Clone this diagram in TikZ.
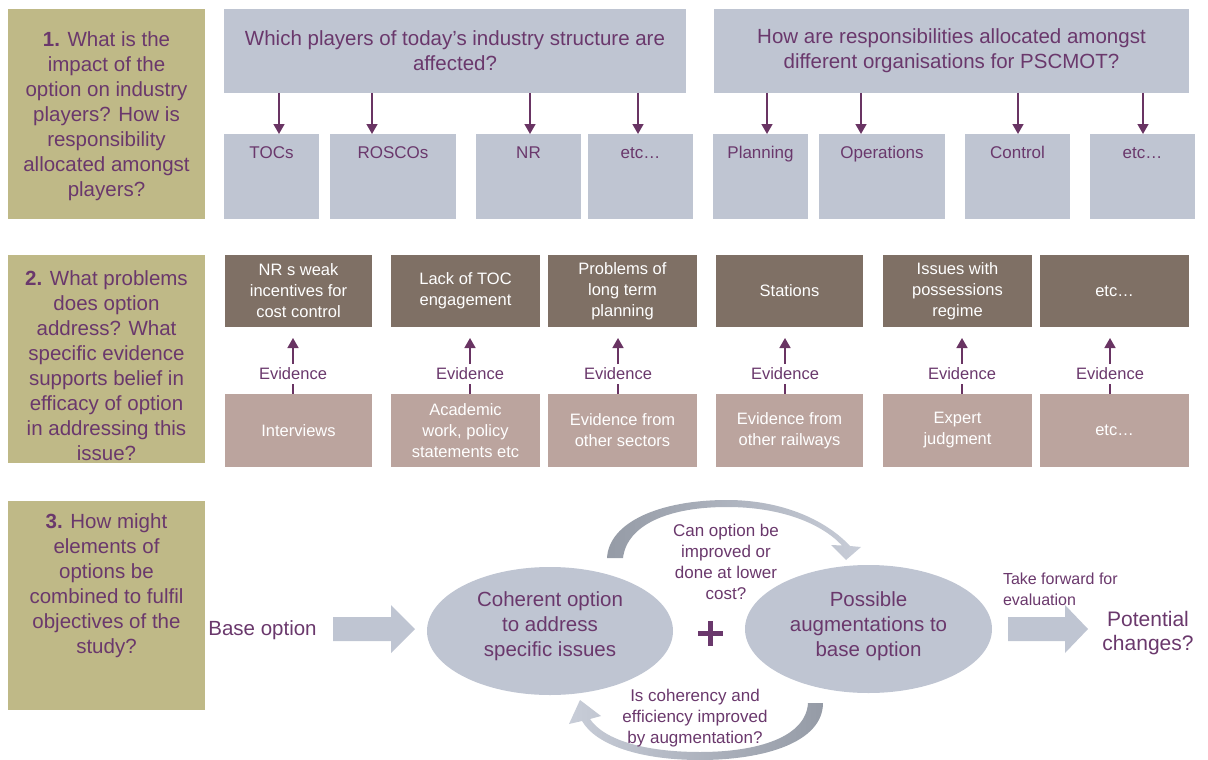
\documentclass[tikz,border=0pt]{standalone}
\usepackage{fontspec}
\setmainfont{Liberation Sans}
\usetikzlibrary{arrows.meta,shapes.geometric,calc}

\definecolor{olive}{HTML}{BFB987}
\definecolor{plum}{HTML}{6A386C}
\definecolor{slate}{HTML}{BFC5D2}
\definecolor{umber}{HTML}{7F7065}
\definecolor{rose}{HTML}{BBA49E}
\definecolor{arrowplum}{HTML}{693463}
\definecolor{curvedark}{HTML}{959BA6}
\definecolor{curvelight}{HTML}{C8CDD8}

\begin{document}
\begin{tikzpicture}[x=1pt,y=-1pt,
  every node/.style={inner sep=0pt, outer sep=0pt},
  qbox/.style={fill=olive, minimum width=197pt},
  qtext/.style={text=plum, align=center, font=\fontsize{20.5}{25}\selectfont},
  bigbox/.style={fill=slate, minimum height=84pt, text=plum, align=center, font=\fontsize{20.5}{25}\selectfont},
  smallbox/.style={fill=slate, minimum height=85pt},
  smalltxt/.style={text=plum, font=\fontsize{17}{20}\selectfont},
  probbox/.style={fill=umber, minimum height=72pt, text=white, align=center, font=\fontsize{16.5}{21}\selectfont},
  srcbox/.style={fill=rose, minimum height=73pt, text=white, align=center, font=\fontsize{16.5}{21}\selectfont},
  evlabel/.style={text=plum, font=\fontsize{16.5}{20}\selectfont, minimum height=20pt},
  feed/.style={-{Triangle[width=11pt,length=10pt]}, draw=arrowplum, line width=1.6pt},
  stem/.style={draw=arrowplum, line width=1.6pt},
  oval/.style={ellipse, fill=slate},
  ovaltext/.style={text=plum, align=center, font=\fontsize{20.5}{25}\selectfont},
  note/.style={text=plum, align=center, font=\fontsize{17}{21}\selectfont},
  blockarrow/.style={fill=slate}
]
\useasboundingbox (0,0) rectangle (1208,760);

% ---- question column ----
\node[qbox, minimum height=210pt] (k1) at (106.5,114) {};
\node[qtext] (k1t) at (106.5,116) {\textbf{1.} What is the\\impact of the\\option on industry\\players? How is\\responsibility\\allocated amongst\\players?};
\node[qbox, minimum height=208pt] (k2) at (106.5,359) {};
\node[qtext] (k2t) at (106.5,366) {\textbf{2.} What problems\\does option\\address? What\\specific evidence\\supports belief in\\efficacy of option\\in addressing this\\issue?};
\node[qbox, minimum height=209pt] (k3) at (106.5,605.5) {};
\node[qtext] (k3t) at (106.5,586) {\textbf{3.} How might\\elements of\\options be\\combined to fulfil\\objectives of the\\study?};

% ---- row 1: industry players and responsibilities ----
\node[bigbox, minimum width=462pt] (big1) at (455,51) {Which players of today’s industry structure are\\affected?};
\node[bigbox, minimum width=475pt] (big2) at (951.5,51) {How are responsibilities allocated amongst\\different organisations for PSCMOT?};

\foreach \n/\cx/\w/\t in {toc/271.5/95/TOCs, rosco/393/126/ROSCOs, nr/528.5/105/NR, etcA/640.5/105/etc\ldots,
                          plan/760.5/95/Planning, ops/882/126/Operations, ctrl/1017.5/105/Control, etcB/1142.5/105/etc\ldots}
  \node[smallbox, minimum width=\w pt, label={[smalltxt,anchor=base,yshift=-24pt]north:\t}] (\n) at (\cx,176.5) {};

\foreach \n/\dx in {toc/7.5, rosco/-21, nr/1.5, etcA/-2.5} {
  \path ([xshift=\dx pt]\n.north) coordinate (\n-in);
  \draw[feed] (\n-in |- big1.south) -- (\n-in);
}
\foreach \n/\dx in {plan/6.5, ops/-21, ctrl/0.5, etcB/0.5} {
  \path ([xshift=\dx pt]\n.north) coordinate (\n-in);
  \draw[feed] (\n-in |- big2.south) -- (\n-in);
}

% ---- row 2: problems and supporting evidence ----
\node[probbox, minimum width=147pt] (p1) at (298.5,291) {NR s weak\\incentives for\\cost control};
\node[probbox, minimum width=149pt] (p2) at (465.5,291) {Lack of TOC\\engagement};
\node[probbox, minimum width=149pt] (p3) at (622.5,291) {Problems of\\long term\\planning};
\node[probbox, minimum width=147pt] (p4) at (789.5,291) {Stations};
\node[probbox, minimum width=149pt] (p5) at (957.5,291) {Issues with\\possessions\\regime};
\node[probbox, minimum width=149pt] (p6) at (1114.5,291) {etc\ldots};

\node[srcbox, minimum width=147pt] (s1) at (298.5,430.5) {Interviews};
\node[srcbox, minimum width=149pt] (s2) at (465.5,430.5) {Academic\\work, policy\\statements etc};
\node[srcbox, minimum width=149pt] (s3) at (622.5,430.5) {Evidence from\\other sectors};
\node[srcbox, minimum width=147pt] (s4) at (789.5,430.5) {Evidence from\\other railways};
\node[srcbox, minimum width=149pt] (s5) at (957.5,430.5) {Expert\\judgment};
\node[srcbox, minimum width=149pt] (s6) at (1114.5,430.5) {etc\ldots};

\foreach \i/\dx in {1/-5.5, 2/4.5, 3/-4.5, 4/-4.5, 5/4.5, 6/-4.5} {
  \node[evlabel] (ev\i) at ($(s\i.north)+(\dx,-20)$) {Evidence};
  \draw[stem] (ev\i.south) -- (ev\i.south |- s\i.north);
  \draw[feed, shorten >=11pt] (ev\i.north) -- (ev\i.north |- p\i.south);
}

% ---- row 3: combining options ----
\node[text=plum, font=\fontsize{20.5}{25}\selectfont] (base) at (262.5,630) {Base option};
\fill[blockarrow] (333,617) -- (391,617) -- (391,605) -- (415,629) -- (391,653) -- (391,641) -- (333,641) -- cycle;

\node[oval, minimum width=246pt, minimum height=128pt] (coh) at (550,631) {};
\node[ovaltext] at ($(coh.center)+(0,-5)$) {Coherent option\\to address\\specific issues};
\node[oval, minimum width=247pt, minimum height=128pt] (aug) at (868.5,629) {};
\node[ovaltext] at ($(aug.center)+(0,-3)$) {Possible\\augmentations to\\base option};

% plus sign between the two ovals
\coordinate (plus) at (710.5,633.5);
\draw[plum, line width=5pt] ($(plus)+(-12.5,0)$) -- ($(plus)+(12.5,0)$)
                            ($(plus)+(0,-12.5)$) -- ($(plus)+(0,12.5)$);

% curved feedback arrows
\shade[left color=curvedark, right color=curvelight]
  (607,558) .. controls (609,522) and (660,500) .. (727,500)
  .. controls (785,500) and (828,522) .. (850,546)
  -- (861,547) -- (846,560) -- (831,545) -- (842,545.5)
  .. controls (822,524) and (782,507) .. (727,507)
  .. controls (668,507) and (627,525) .. (623,558) -- cycle;
\shade[left color=curvelight, right color=curvedark]
  (823,703) .. controls (823,742) and (765,760) .. (700,760)
  .. controls (640,760) and (596,745) .. (582,721)
  -- (569,724) -- (580,700) -- (601,716) -- (590,719)
  .. controls (604,740) and (645,752) .. (700,752)
  .. controls (758,752) and (806,737) .. (808,703) -- cycle;

\node[note] (q-up) at (726,562) {Can option be\\improved or\\done at lower\\cost?};
\node[note] (q-down) at (695,718) {Is coherency and\\efficiency improved\\by augmentation?};

\fill[blockarrow] (1008,617) -- (1065,617) -- (1065,605) -- (1088,629) -- (1065,653) -- (1065,641) -- (1008,641) -- cycle;
\node[text=plum, align=left, anchor=west, font=\fontsize{16}{21}\selectfont] (fwd) at (1003,589) {Take forward for\\evaluation};
\node[text=plum, align=center, font=\fontsize{21}{24}\selectfont] (pot) at (1148,633) {Potential\\changes?};
\end{tikzpicture}
\end{document}
